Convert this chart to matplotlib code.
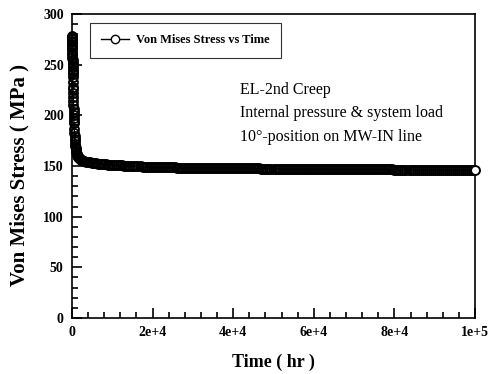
import matplotlib.pyplot as plt
from matplotlib.ticker import MultipleLocator

# creep time (hr) and von Mises stress (MPa)
time_hr = [0, 5, 10, 15, 20, 30, 40, 50, 60, 70, 80, 90, 100, 110, 120, 130,
           140, 150, 160, 170, 180, 190, 200, 220, 240, 260, 280, 300, 325,
           350, 375, 400, 425, 450, 475, 500, 550, 600, 650, 700, 750, 800,
           850, 900, 950, 1000, 1100, 1200, 1300, 1400,
           1500, 1600, 1800, 2000, 2250, 2500, 2750, 3000, 3500, 4000, 4500,
           5000, 5500, 6000, 6500, 7000, 7500, 8000, 8500, 9000, 9500,
           10000, 10500, 11000, 11500, 12000, 12500, 13000, 13500, 14000, 14500,
           15000, 15500, 16000, 16500, 17000, 17500, 18000, 18500, 19000, 19500,
           20000, 20500, 21000, 21500, 22000, 22500, 23000, 23500, 24000, 24500,
           25000, 25500, 26000, 26500, 27000, 27500, 28000, 28500, 29000, 29500,
           30000, 30500, 31000, 31500, 32000, 32500, 33000, 33500, 34000, 34500,
           35000, 35500, 36000, 36500, 37000, 37500, 38000, 38500, 39000, 39500,
           40000, 40500, 41000, 41500, 42000, 42500, 43000, 43500, 44000, 44500,
           45000, 45500, 46000, 46500, 47000, 47500, 48000, 48500, 49000, 49500,
           50000, 50500, 51000, 51500, 52000, 52500, 53000, 53500, 54000, 54500,
           55000, 55500, 56000, 56500, 57000, 57500, 58000, 58500, 59000, 59500,
           60000, 60500, 61000, 61500, 62000, 62500, 63000, 63500, 64000, 64500,
           65000, 65500, 66000, 66500, 67000, 67500, 68000, 68500, 69000, 69500,
           70000, 70500, 71000, 71500, 72000, 72500, 73000, 73500, 74000, 74500,
           75000, 75500, 76000, 76500, 77000, 77500, 78000, 78500, 79000, 79500,
           80000, 80500, 81000, 81500, 82000, 82500, 83000, 83500, 84000, 84500,
           85000, 85500, 86000, 86500, 87000, 87500, 88000, 88500, 89000, 89500,
           90000, 90500, 91000, 91500, 92000, 92500, 93000, 93500, 94000, 94500,
           95000, 95500, 96000, 96500, 97000, 97500, 98000, 98500, 99000, 99500,
           100000]
stress = [278, 277.5, 277, 276.5, 276, 275, 273.5, 272, 270, 268, 266, 264, 262,
          259.5, 257, 254.5, 252, 250, 247.5, 245, 243, 240.5, 238, 233, 228,
          226, 222, 218, 214, 210, 206.5, 203, 200, 197, 194.5, 192, 187, 183,
          180, 177, 174.5, 172, 170, 168, 166.5, 165, 163.5, 162, 161, 160,
          159.2, 158.5, 157.5, 156.8, 156.3, 155.8, 155.4, 155.0, 154.4, 153.9, 153.5,
          153.2, 152.9, 152.6, 152.3, 152.1, 151.9, 151.7, 151.5, 151.3, 151.1,
          151.0, 150.9, 150.8, 150.7, 150.6, 150.5, 150.4, 150.3, 150.2, 150.1,
          150.0, 149.9, 149.8, 149.7, 149.6, 149.5, 149.4, 149.3, 149.2, 149.1,
          149.0, 149.0, 148.9, 148.9, 148.8, 148.8, 148.8, 148.7, 148.7, 148.6,
          148.6, 148.6, 148.5, 148.5, 148.5, 148.4, 148.4, 148.4, 148.3, 148.3,
          148.3, 148.3, 148.2, 148.2, 148.2, 148.2, 148.1, 148.1, 148.1, 148.1,
          148.0, 148.0, 148.0, 148.0, 147.9, 147.9, 147.9, 147.9, 147.8, 147.8,
          147.8, 147.8, 147.8, 147.8, 147.7, 147.7, 147.7, 147.7, 147.6, 147.6,
          147.6, 147.6, 147.6, 147.6, 147.5, 147.5, 147.5, 147.5, 147.5, 147.5,
          147.4, 147.4, 147.4, 147.4, 147.4, 147.4, 147.3, 147.3, 147.3, 147.3,
          147.3, 147.3, 147.2, 147.2, 147.2, 147.2, 147.2, 147.2, 147.1, 147.1,
          147.1, 147.1, 147.1, 147.1, 147.0, 147.0, 147.0, 147.0, 147.0, 147.0,
          146.9, 146.9, 146.9, 146.9, 146.9, 146.9, 146.9, 146.9, 146.8, 146.8,
          146.8, 146.8, 146.8, 146.8, 146.7, 146.7, 146.7, 146.7, 146.7, 146.7,
          146.7, 146.7, 146.6, 146.6, 146.6, 146.6, 146.6, 146.6, 146.6, 146.6,
          146.5, 146.5, 146.5, 146.5, 146.5, 146.5, 146.5, 146.5, 146.4, 146.4,
          146.4, 146.4, 146.4, 146.4, 146.4, 146.4, 146.3, 146.3, 146.3, 146.3,
          146.3, 146.3, 146.3, 146.3, 146.2, 146.2, 146.2, 146.2, 146.2, 146.2,
          146.2, 146.2, 146.1, 146.1, 146.1, 146.1, 146.1, 146.1, 146.1, 146.1,
          146.0]

x_ticks = [0, 20000, 40000, 60000, 80000, 100000]
x_tick_labels = ['0', '2e+4', '4e+4', '6e+4', '8e+4', '1e+5']
note_lines = ['EL-2nd Creep', 'Internal pressure & system load',
              '10\u00b0-position on MW-IN line']

plt.rcParams['font.family'] = ['Liberation Serif', 'DejaVu Serif']

fig = plt.figure(figsize=(4.97, 3.74), dpi=100)
ax = fig.add_axes([72 / 497, 1 - 318 / 374, 403 / 497, 304 / 374])

# open circles, densely packed -> they merge into a thick dark band
ax.plot(time_hr, stress, color='black', lw=1.0, marker='o', markersize=6.5,
        markerfacecolor='none', markeredgecolor='black', markeredgewidth=1.3,
        clip_on=False, zorder=3)
# last point drawn again with a white face, as on the original
ax.plot(time_hr[-1:], stress[-1:], ls='none', marker='o', markersize=6,
        markerfacecolor='white', markeredgecolor='black', markeredgewidth=1.0,
        clip_on=False, zorder=4)
# proxy for the legend entry
ax.plot([], [], color='black', lw=1.0, marker='o', markersize=6,
        markerfacecolor='white', markeredgecolor='black',
        label='Von Mises Stress vs Time')

ax.set_xlim(0, 100000)
ax.set_ylim(0, 300)
ax.set_xticks(x_ticks)
ax.set_xticklabels(x_tick_labels)
ax.xaxis.set_minor_locator(MultipleLocator(4000))
ax.yaxis.set_major_locator(MultipleLocator(50))
ax.yaxis.set_minor_locator(MultipleLocator(10))
ax.tick_params(which='both', direction='in', top=False, right=False, width=1.2)
ax.tick_params(which='major', length=7, labelsize=10, pad=6)
ax.tick_params(which='minor', length=4)
for lab in ax.get_xticklabels() + ax.get_yticklabels():
    lab.set_fontweight('bold')
for sp in ax.spines.values():
    sp.set_linewidth(1.2)

ax.set_xlabel('Time ( hr )', fontsize=13, fontweight='bold', labelpad=10)
ax.set_ylabel('Von Mises Stress ( MPa )', fontsize=15, fontweight='bold')
ax.yaxis.set_label_coords(-0.105, 0.47)

leg = ax.legend(loc='upper left', bbox_to_anchor=(0.045, 0.97), borderaxespad=0,
                frameon=True, fancybox=False, edgecolor='black', handlelength=2.2,
                handletextpad=0.6, prop={'weight': 'bold', 'size': 9}, borderpad=0.9)
leg.get_frame().set_linewidth(0.8)

note_y = [0.75, 0.673, 0.595]
for txt, yy in zip(note_lines, note_y):
    ax.text(0.417, yy, txt, transform=ax.transAxes,
            fontsize=11.5, va='center', ha='left')

fig.savefig('out.png', dpi=100)
